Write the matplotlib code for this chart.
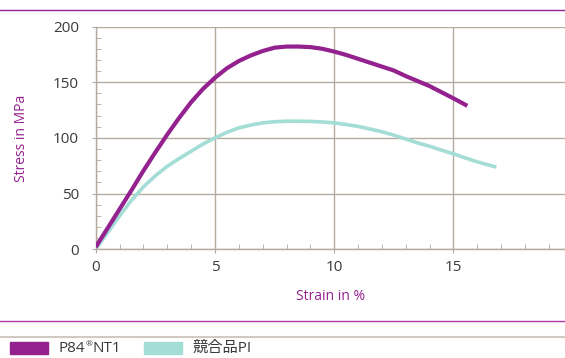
import matplotlib
matplotlib.use("Agg")
import matplotlib.pyplot as plt
from matplotlib.lines import Line2D
from matplotlib.patches import Rectangle
from matplotlib.ticker import MultipleLocator

plt.rcParams['font.family'] = ['Open Sans', 'Noto Sans CJK JP', 'DejaVu Sans']

strain_p84 = [0, 0.5, 1, 1.5, 2, 2.5, 3, 3.5, 4, 4.5, 5, 5.5, 6, 6.5, 7, 7.5, 8, 8.5, 9,
              9.5, 10, 10.5, 11, 11.5, 12, 12.5, 13, 13.5, 14, 14.5, 15, 15.58]
stress_p84 = [2, 19, 36, 53, 70.5, 87, 103, 118, 132, 144, 154, 162.5, 169, 174, 178, 181, 182, 182, 181.5,
              180, 177.5, 174.5, 171, 167.5, 164, 160.5, 155.5, 151, 146.5, 141, 135.5, 128.8]

strain_comp = [0, 0.5, 1, 1.5, 2, 2.5, 3, 3.5, 4, 4.5, 5, 5.5, 6, 6.5, 7, 7.5, 8, 8.5, 9,
               9.5, 10, 10.5, 11, 11.5, 12, 12.5, 13, 13.5, 14, 14.5, 15, 15.5, 16, 16.5, 16.8]
stress_comp = [0, 15, 30, 44, 56, 66, 74.5, 81.5, 88, 94.5, 100, 105, 109, 111.5, 113.5, 114.5, 115, 115, 114.8,
               114.3, 113.5, 112, 110.3, 108, 105.5, 102.5, 99, 95.5, 92.5, 89, 85.7, 82, 78.5, 75.5, 73.8]

legend_parts = [["P84", "®", "NT1"], ["競合品PI"]]
x_ticks = [0, 5, 10, 15]
y_ticks = [0, 50, 100, 150, 200]

PURPLE = "#93218e"
CYAN = "#a3ddd6"
GRID = "#b5aba0"
TXT = "#3a3a3a"

W, H = 565, 358
fig = plt.figure(figsize=(W / 100, H / 100), dpi=100)
left, right, top, bottom = 95.7, 565, 26.5, 249.3
ax = fig.add_axes([left / W, 1 - bottom / H, (right - left) / W, (bottom - top) / H])

ax.plot(strain_p84, stress_p84, color=PURPLE, lw=3.0, solid_capstyle='butt', zorder=3)
ax.plot(strain_comp, stress_comp, color=CYAN, lw=2.6, solid_capstyle='butt', zorder=2)

ax.set_xlim(0, (right - left) / 23.85)
ax.set_ylim(0, 200)
ax.set_xticks(x_ticks)
ax.set_yticks(y_ticks)
ax.xaxis.set_minor_locator(MultipleLocator(1))
ax.yaxis.set_minor_locator(MultipleLocator(10))
ax.grid(True, which='major', color=GRID, lw=1.0)
for s in ['top', 'right']:
    ax.spines[s].set_visible(False)
for s in ['left', 'bottom']:
    ax.spines[s].set_color(GRID)
    ax.spines[s].set_linewidth(1.0)
ax.tick_params(which='major', direction='out', length=3, color=GRID, labelsize=11, labelcolor=TXT, pad=9)
ax.tick_params(which='minor', direction='in', length=3.5, color=GRID)
ax.tick_params(axis='x', which='major', pad=5)

ax.set_xlabel("Strain in %", color=PURPLE, fontsize=10, labelpad=10)
ax.set_ylabel("Stress in MPa", color=PURPLE, fontsize=10, labelpad=17)

fig.add_artist(Line2D([0, 1], [1 - 9.7 / H, 1 - 9.7 / H], color=PURPLE, lw=1.0, transform=fig.transFigure))
fig.add_artist(Line2D([0, 1], [1 - 321 / H, 1 - 321 / H], color="#b03aa8", lw=1.0, transform=fig.transFigure))
fig.add_artist(Line2D([0, 1], [1 - 337 / H, 1 - 337 / H], color="#cfc9c2", lw=1.5, transform=fig.transFigure))

renderer = fig.canvas.get_renderer()
ly = 348
for x0, col, parts, tx in [(10, PURPLE, legend_parts[0], 59), (144, CYAN, legend_parts[1], 193)]:
    fig.add_artist(Rectangle((x0 / W, 1 - (ly + 6) / H), 38 / W, 12 / H, color=col, transform=fig.transFigure))
    cx = tx
    for p in parts:
        if p == "®":
            t = fig.text(cx / W, 1 - (ly - 3) / H, p, color=TXT, fontsize=6, va='center', ha='left')
        else:
            t = fig.text(cx / W, 1 - ly / H, p, color=TXT, fontsize=11, va='center', ha='left')
        cx += t.get_window_extent(renderer).width

fig.savefig("out.png", dpi=100)
